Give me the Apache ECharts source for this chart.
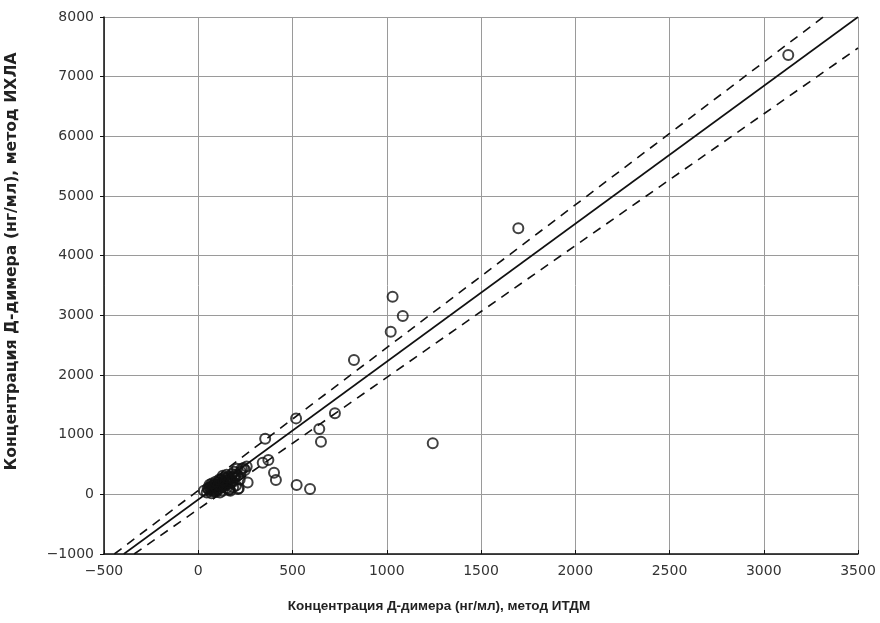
<!DOCTYPE html>
<html>
<head>
<meta charset="utf-8">
<script src="https://cdn.jsdelivr.net/npm/echarts@6/dist/echarts.min.js"></script>
<style>html,body{margin:0;padding:0;background:#fff;}#chart{width:880px;height:623px;}</style>
</head>
<body>
<div id="chart"></div>
<script>
// Scatter data: ИТДМ (x) vs ИХЛА (y)
var pointsX = [3130, 1698, 1031, 1085, 1021, 826, 1244, 725, 519, 642, 651, 522, 593, 355, 372, 342, 402, 412, 262, 257, 248,
  30, 45, 55, 60, 70, 75, 80, 85, 90, 95, 100, 105, 110, 115, 120, 125, 130, 135, 140, 145, 150, 155, 160, 165, 170, 175, 180, 185, 190, 195, 200, 205, 210, 215, 220, 225, 230, 240, 70, 95, 115, 60, 130, 150, 165, 185, 163, 211,
  50, 65, 78, 88, 98, 108, 118, 128, 138, 148, 158, 168, 178, 188, 198, 72, 92, 112, 132, 152];
var pointsY = [7362, 4458, 3311, 2988, 2725, 2253, 855, 1357, 1273, 1094, 882, 156, 89, 930, 575, 530, 362, 240, 200, 465, 408,
  60, 30, 80, 120, 90, 150, 50, 110, 170, 70, 130, 200, 90, 160, 240, 120, 60, 190, 280, 150, 100, 230, 300, 180, 60, 260, 340, 210, 380, 280, 150, 430, 320, 100, 250, 380, 430, 440, 20, 40, 30, 160, 310, 330, 90, 120, 72, 89,
  100, 60, 120, 140, 100, 170, 130, 210, 150, 250, 200, 270, 220, 300, 330, 180, 210, 250, 230, 280];
// Regression line and confidence lines (endpoints)
var fitX = [-395, 3500];
var fitY = [-1000, 8000];
var upperX = [-445, 3316];
var upperY = [-1000, 8000];
var lowerX = [-340, 3500];
var lowerY = [-1000, 7480];
// Axis ticks
var xMin = -500, xMax = 3500, xStep = 500;
var yMin = -1000, yMax = 8000, yStep = 1000;

function zip(a, b) { return a.map(function (v, i) { return [v, b[i]]; }); }
function fmt(v) { return String(v).replace('-', '\u2212'); }

var chart = echarts.init(document.getElementById('chart'), null, {renderer: 'canvas'});
chart.setOption({
  backgroundColor: '#fff',
  animation: false,
  grid: {left: 104, right: 22, top: 17, bottom: 69, containLabel: false, outerBoundsMode: 'none'},
  xAxis: {
    type: 'value', min: xMin, max: xMax, interval: xStep,
    name: 'Концентрация Д-димера (нг/мл), метод ИТДМ',
    nameLocation: 'middle', nameGap: 45,
    nameTextStyle: {fontFamily: 'Liberation Sans', fontWeight: 'bold', fontSize: 13.5, color: '#222', padding: [0, 84, 0, 0]},
    axisLine: {show: true, onZero: false, lineStyle: {color: '#111', width: 1.5}},
    axisTick: {show: true, inside: true, length: 4, lineStyle: {color: '#111'}},
    axisLabel: {fontFamily: 'DejaVu Sans', fontSize: 14, color: '#333', margin: 10, formatter: fmt},
    splitLine: {show: true, lineStyle: {color: '#9a9a9a', width: 1}}
  },
  yAxis: {
    type: 'value', min: yMin, max: yMax, interval: yStep,
    name: 'Концентрация Д-димера (нг/мл), метод ИХЛА',
    nameLocation: 'middle', nameGap: 84,
    nameTextStyle: {fontFamily: 'DejaVu Sans', fontWeight: 'bold', fontSize: 15.7, color: '#222', padding: [0, 0, 0, 48]},
    axisLine: {show: true, onZero: false, lineStyle: {color: '#111', width: 1.5}},
    axisTick: {show: true, inside: false, length: 4, lineStyle: {color: '#111'}},
    axisLabel: {fontFamily: 'DejaVu Sans', fontSize: 14, color: '#333', margin: 10, formatter: fmt},
    splitLine: {show: true, lineStyle: {color: '#9a9a9a', width: 1}}
  },
  series: [
    {type: 'line', data: zip(fitX, fitY), symbol: 'none', lineStyle: {color: '#111', width: 1.6}, z: 3},
    {type: 'line', data: zip(upperX, upperY), symbol: 'none', lineStyle: {color: '#111', width: 1.6, type: [9, 7]}, z: 3},
    {type: 'line', data: zip(lowerX, lowerY), symbol: 'none', lineStyle: {color: '#111', width: 1.6, type: [9, 7]}, z: 3},
    {type: 'scatter', data: zip(pointsX, pointsY), symbol: 'circle', symbolSize: 10,
     itemStyle: {color: 'rgba(255,255,255,0)', borderColor: '#111', borderWidth: 2}, z: 4}
  ]
});
</script>
</body>
</html>
